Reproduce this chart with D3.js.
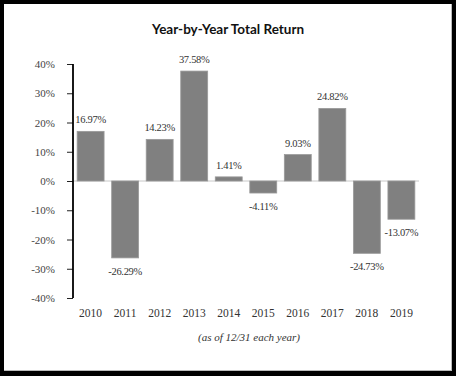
<!DOCTYPE html>
<html><head><meta charset="utf-8">
<script src="https://cdn.jsdelivr.net/npm/d3@7"></script>
<style>html,body{margin:0;padding:0;background:#000;}svg{display:block;}</style>
</head><body>
<script>
const years = ["2010","2011","2012","2013","2014","2015","2016","2017","2018","2019"];
const returns = [16.97,-26.29,14.23,37.58,1.41,-4.11,9.03,24.82,-24.73,-13.07];
const yTicks = [40,30,20,10,0,-10,-20,-30,-40];
const title = "Year-by-Year Total Return";
const subtitle = "(as of 12/31 each year)";

const W = 456, H = 376;
const svg = d3.select("body").append("svg").attr("width", W).attr("height", H);
svg.append("rect").attr("width", W).attr("height", H).attr("fill", "#000");
svg.append("rect").attr("x", 4).attr("y", 4).attr("width", 448).attr("height", 367).attr("fill", "#fff");
svg.append("line").attr("x1",451.5).attr("x2",451.5).attr("y1",4).attr("y2",371).attr("stroke","#bbb");
svg.append("line").attr("x1",4).attr("x2",452).attr("y1",370.5).attr("y2",370.5).attr("stroke","#bbb");

const x = d3.scaleBand().domain(years).range([73, 419]).paddingInner(0.22).paddingOuter(0.12);
const y = d3.scaleLinear().domain([-40, 40]).range([298, 64]);

const serif = "'Liberation Serif', 'DejaVu Serif', serif";

svg.append("text").attr("x", 228).attr("y", 34).attr("text-anchor", "middle")
  .attr("font-family", "Lato, 'Open Sans', sans-serif").attr("font-weight", "bold")
  .attr("font-size", 13.5).attr("fill", "#111").text(title);

// zero line
svg.append("line").attr("x1", 73).attr("x2", 419).attr("y1", y(0)).attr("y2", y(0))
  .attr("stroke", "#c8c8c8").attr("stroke-width", 1);

// y axis
const yAxis = d3.axisLeft(y).tickValues(yTicks).tickSize(6).tickPadding(12)
  .tickFormat(d => d + "%");
const ga = svg.append("g").attr("transform", "translate(73,0)").call(yAxis);
ga.select(".domain").remove();
ga.selectAll(".tick line").attr("stroke", "#222");
ga.selectAll(".tick text").attr("font-family", serif).attr("font-size", 11).attr("fill", "#444");
svg.append("line").attr("x1", 73).attr("x2", 73).attr("y1", y(40)).attr("y2", y(-40))
  .attr("stroke", "#000").attr("stroke-width", 1.8);

// bars
svg.selectAll("rect.bar").data(returns).join("rect").attr("class", "bar")
  .attr("x", (d, i) => x(years[i]))
  .attr("width", x.bandwidth())
  .attr("y", d => y(Math.max(0, d)))
  .attr("height", d => Math.abs(y(d) - y(0)))
  .attr("fill", "#808080").attr("stroke", "#9a9a9a").attr("stroke-width", 0.8);

// value labels
svg.selectAll("text.val").data(returns).join("text").attr("class", "val")
  .attr("x", (d, i) => x(years[i]) + x.bandwidth() / 2)
  .attr("y", d => d >= 0 ? y(d) - 8 : y(d) + 17)
  .attr("text-anchor", "middle").attr("font-family", serif).attr("font-size", 10.5)
  .attr("fill", "#333").attr("letter-spacing", -0.3)
  .text(d => d.toFixed(2) + "%");

// x labels
const xAxis = d3.axisBottom(x).tickSize(0).tickPadding(0);
const gx = svg.append("g").attr("transform", "translate(0,310)").call(xAxis);
gx.select(".domain").remove();
gx.selectAll(".tick text").attr("font-family", serif).attr("font-size", 11.5).attr("fill", "#333").attr("dy", "0.6em");

svg.append("text").attr("x", 249).attr("y", 341).attr("text-anchor", "middle")
  .attr("font-family", serif).attr("font-style", "italic").attr("font-size", 11)
  .attr("fill", "#333").text(subtitle);
</script>
</body></html>
